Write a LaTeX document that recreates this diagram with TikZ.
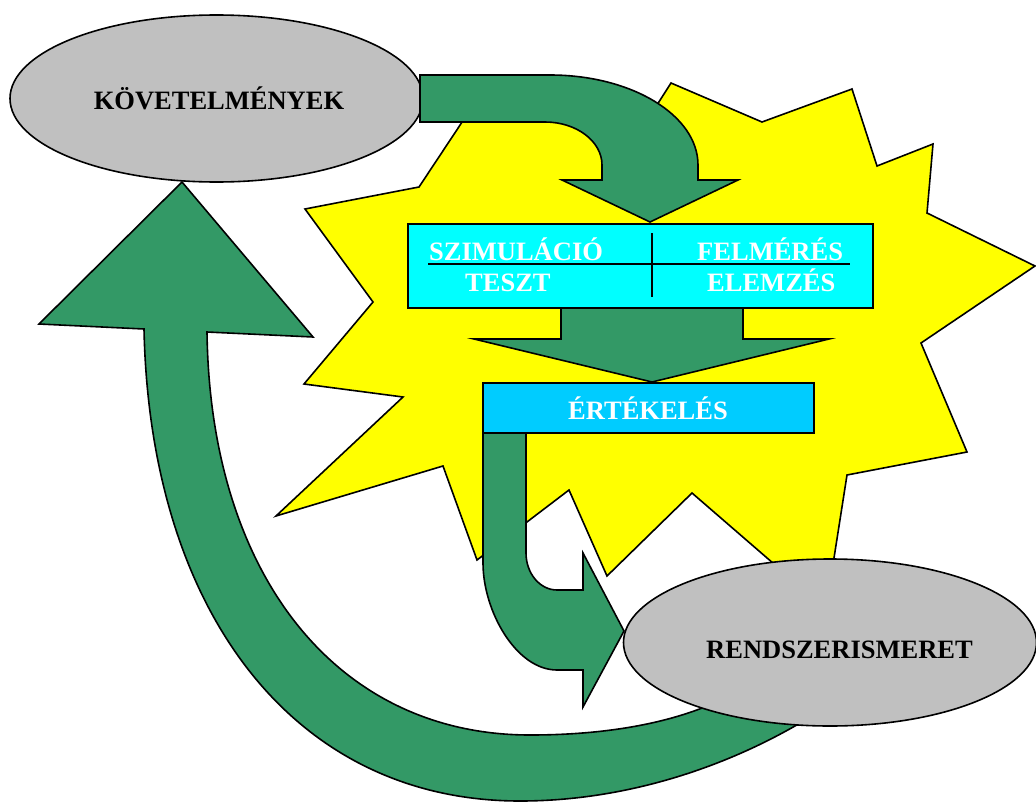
\documentclass[tikz,border=0pt]{standalone}
\usepackage{fontspec}
\setmainfont{Liberation Serif}
\usetikzlibrary{shapes.geometric}

\definecolor{arrowgreen}{HTML}{339966}
\definecolor{ellgray}{HTML}{C0C0C0}
\definecolor{burst}{HTML}{FFFF00}
\definecolor{boxcyan}{HTML}{00FFFF}
\definecolor{evalblue}{HTML}{00CCFF}

\tikzset{
  outline/.style={draw=black, line width=1.6pt, line join=miter},
  blockarrow/.style={outline, fill=arrowgreen},
  oval/.style={ellipse, outline, fill=ellgray, inner sep=0pt,
               minimum width=413pt, minimum height=167pt},
  panel/.style={outline, inner sep=0pt},
  lbl/.style={inner sep=0pt, font=\fontsize{26.5}{30}\selectfont\bfseries},
  whitelbl/.style={lbl, text=white},
  rule/.style={draw=black, line width=1.6pt}
}

\begin{document}
\begin{tikzpicture}[x=1pt, y=-1pt]
\useasboundingbox (0,0) rectangle (1036,803);

% explosion shape in the background
\path[outline, fill=burst]
  (671,83) -- (762,122) -- (852,89) -- (877,166) -- (933,144) -- (927,213)
  -- (1035,266) -- (921,343) -- (967,452) -- (847,475) -- (826,609)
  -- (692,493) -- (607,576) -- (569,490) -- (477,560) -- (443,466)
  -- (276,516) -- (403,397) -- (304,384) -- (373,302) -- (305,209)
  -- (419,187) -- (480,95) -- (580,110) -- (625,155) -- cycle;

% large return arrow, from the system knowledge back to the requirements
\path[blockarrow]
  (144,329) .. controls (150,612) and (294,801) .. (520,801)
  .. controls (650,801) and (770,750) .. (850,690)
  -- (740,690) .. controls (680,725) and (600,735) .. (530,735)
  .. controls (336,735) and (210,574) .. (207,332)
  -- (313,337) -- (182,182) -- (39,324) -- cycle;

% requirements
\node[oval] (kov) at (216.5,98.5) {};
\node[lbl, anchor=base] (kovtxt) at (219,109) {KÖVETELMÉNYEK};

% bent arrow from the requirements down to the test panel
\path[blockarrow]
  (420,75) -- (550,75) .. controls (631.7,75) and (698,115.3) .. (698,165)
  -- (698,180) -- (738,180) -- (650,222) -- (562,180) -- (602,180) -- (602,165)
  .. controls (602,141.3) and (576.5,122) .. (545,122) -- (420,122) -- cycle;

% arrow from the test panel to the evaluation
\path[blockarrow]
  (561,307) -- (743,307) -- (743,339) -- (829,339) -- (652,382)
  -- (474,339) -- (561,339) -- cycle;

% test panel
\node[panel, fill=boxcyan, minimum width=465pt, minimum height=84pt]
  (tests) at (640.5,266) {};
\draw[rule] (428,264) -- (850,264);
\draw[rule] (652,233) -- (652,297);
\node[whitelbl, anchor=base west] (szim) at (429,260) {SZIMULÁCIÓ};
\node[whitelbl, anchor=base west] (felm) at (697,260) {FELMÉRÉS};
\node[whitelbl, anchor=base west] (teszt) at (465,291) {TESZT};
\node[whitelbl, anchor=base west] (elem) at (707,291) {ELEMZÉS};

% bent arrow from the evaluation to the system knowledge
\path[blockarrow]
  (483,433) -- (526,433) -- (526,553)
  .. controls (526,573.4) and (539.9,590) .. (557,590)
  -- (583,590) -- (583,553) -- (624,631) -- (583,707) -- (583,670) -- (557,670)
  .. controls (516.1,670) and (483,610.9) .. (483,563) -- cycle;

% evaluation
\node[panel, fill=evalblue, minimum width=331pt, minimum height=50pt]
  (eval) at (648.5,408) {};
\node[whitelbl, anchor=base] (evaltxt) at (648,419) {ÉRTÉKELÉS};

% system knowledge
\node[oval] (rend) at (830,642.5) {};
\node[lbl, anchor=base] (rendtxt) at (839.5,658) {RENDSZERISMERET};
\end{tikzpicture}
\end{document}
